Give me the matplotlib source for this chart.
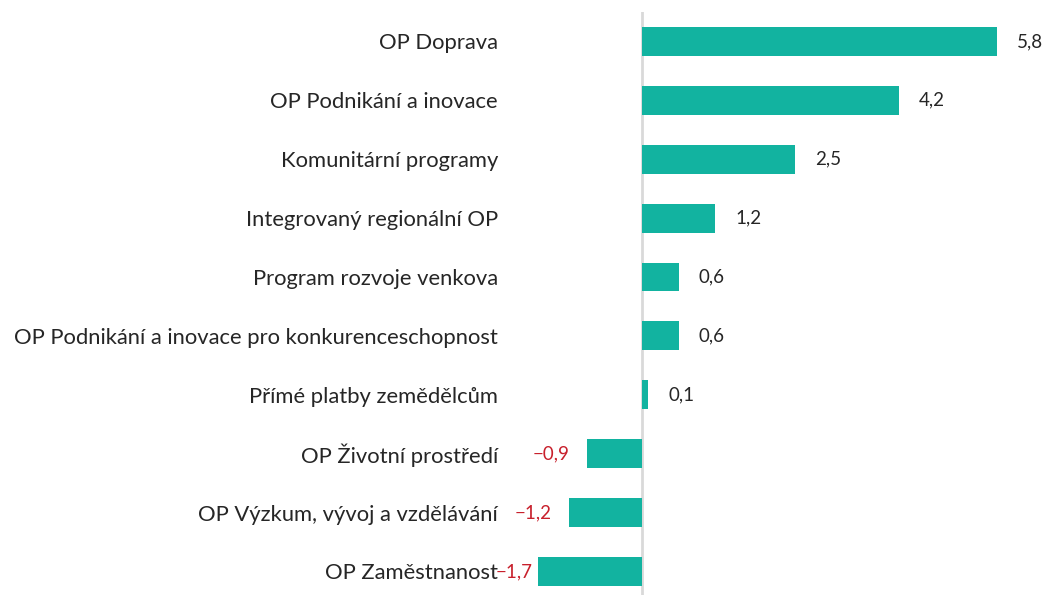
import matplotlib.pyplot as plt

programs = [
    "OP Doprava",
    "OP Podnikání a inovace",
    "Komunitární programy",
    "Integrovaný regionální OP",
    "Program rozvoje venkova",
    "OP Podnikání a inovace pro konkurenceschopnost",
    "Přímé platby zemědělcům",
    "OP Životní prostředí",
    "OP Výzkum, vývoj a vzdělávání",
    "OP Zaměstnanost",
]
values = [5.8, 4.2, 2.5, 1.2, 0.6, 0.6, 0.1, -0.9, -1.2, -1.7]

BAR = "#12b3a0"
TEXT = "#262626"
NEG = "#c8202c"

plt.rcParams["font.family"] = ["Lato", "DejaVu Sans"]

W, H = 1044, 595
fig = plt.figure(figsize=(W / 100, H / 100), dpi=100)
# axes placed in pixel units: x from 505 to 1044, y from 12 to bottom
ax = fig.add_axes([505 / W, 0, (W - 505) / W, (H - 12) / H])

ypos = list(range(len(programs)))
ax.barh(ypos, values, height=0.49, color=BAR, zorder=2)
ax.axvline(0, color="#d9d9d9", lw=2, zorder=1)

ax.set_xlim(-2.239, 6.569)
ax.set_ylim(9.40, -0.5)

ax.set_yticks(ypos)
ax.set_yticklabels(programs, fontsize=15.8, color=TEXT)
ax.tick_params(axis="y", length=0, pad=5)
ax.set_xticks([])
for s in ax.spines.values():
    s.set_visible(False)


def fmt(v):
    s = f"{abs(v):.1f}".replace(".", ",")
    return ("\u2212" + s) if v < 0 else s


for y, v in zip(ypos, values):
    if v >= 0:
        ax.text(v + 0.33, y, fmt(v), ha="left", va="center",
                fontsize=13.5, color=TEXT)
    else:
        # keep negative labels clear of the category names
        x = max(v - 0.28, -1.78)
        ax.text(x, y, fmt(v), ha="right", va="center",
                fontsize=13.5, color=NEG)

fig.savefig("out.png", dpi=100)
